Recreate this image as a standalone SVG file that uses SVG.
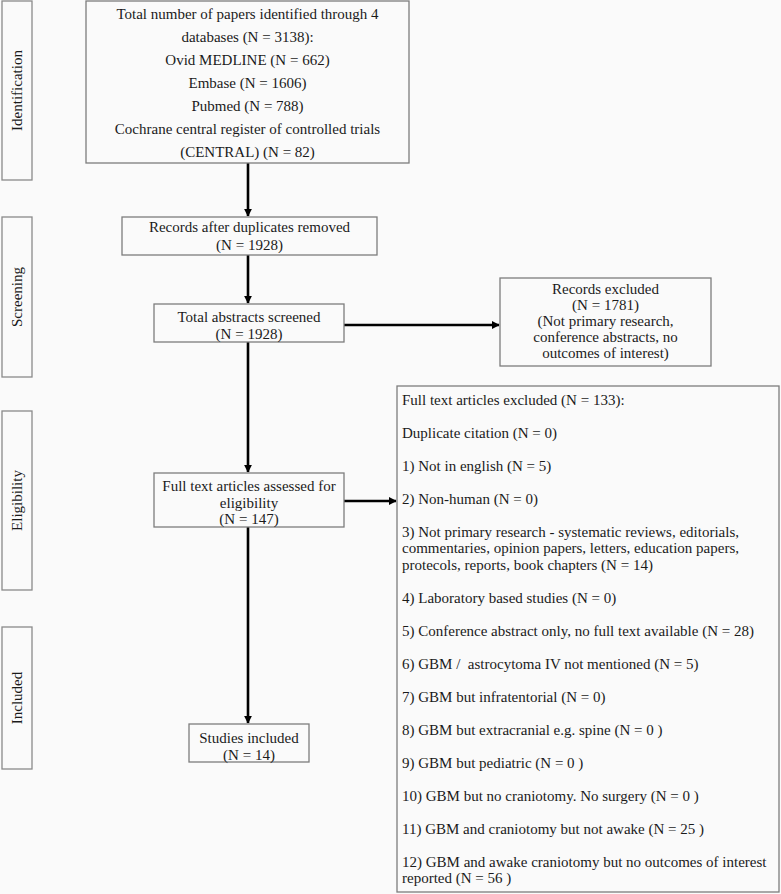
<svg xmlns="http://www.w3.org/2000/svg" width="781" height="894" viewBox="0 0 781 894">
<defs>
<style>
.bx{fill:#fafafa;stroke:#7d7d7d;stroke-width:1.3}
.st{fill:#fafafa;stroke:#8a8a8a;stroke-width:1.3}
text{font-family:"Liberation Serif","Times New Roman",serif;font-size:15px;fill:#1a1a1a}
.c{text-anchor:middle}
.ln{stroke:#000;stroke-width:2.6;fill:none}
</style>
<marker id="ah" viewBox="0 0 10 10" refX="9" refY="5" markerWidth="3" markerHeight="3" orient="auto" markerUnits="strokeWidth">
<path d="M0,0 L10,5 L0,10 z" fill="#000"/>
</marker>
</defs>
<rect width="781" height="894" fill="#fafafa"/>

<g id="stage-identification"><rect class="st" x="2" y="1" width="30" height="179"/><text class="c" transform="translate(22,90.5) rotate(-90)">Identification</text></g>
<g id="stage-screening"><rect class="st" x="2" y="217" width="30" height="160"/><text class="c" transform="translate(22,297) rotate(-90)">Screening</text></g>
<g id="stage-eligibility"><rect class="st" x="2" y="411" width="30" height="179"/><text class="c" transform="translate(22,500.5) rotate(-90)">Eligibility</text></g>
<g id="stage-included"><rect class="st" x="2" y="627" width="30" height="142"/><text class="c" transform="translate(22,698) rotate(-90)">Included</text></g>

<g id="connectors">
<line class="ln" x1="248" y1="163" x2="248" y2="216" marker-end="url(#ah)"/>
<line class="ln" x1="248" y1="255" x2="248" y2="303" marker-end="url(#ah)"/>
<line class="ln" x1="344" y1="325" x2="499" y2="325" marker-end="url(#ah)"/>
<line class="ln" x1="248" y1="342" x2="248" y2="472" marker-end="url(#ah)"/>
<line class="ln" x1="344" y1="501" x2="396" y2="501" marker-end="url(#ah)"/>
<line class="ln" x1="248" y1="527" x2="248" y2="723" marker-end="url(#ah)"/>
</g>

<g id="identified">
<rect class="bx" x="86" y="1" width="323" height="162"/>
<text class="c" x="247.5" y="18.5">Total number of papers identified through 4</text>
<text class="c" x="247.5" y="41.5">databases (N = 3138):</text>
<text class="c" x="247.5" y="64.5">Ovid MEDLINE (N = 662)</text>
<text class="c" x="247.5" y="87.5">Embase (N = 1606)</text>
<text class="c" x="247.5" y="110.5">Pubmed (N = 788)</text>
<text class="c" x="247.5" y="133.5">Cochrane central register of controlled trials</text>
<text class="c" x="247.5" y="156.5">(CENTRAL) (N = 82)</text>
</g>

<g id="deduplicated">
<rect class="bx" x="122" y="217" width="255" height="38"/>
<text class="c" x="249.5" y="231.5">Records after duplicates removed</text>
<text class="c" x="249.5" y="249.5">(N = 1928)</text>
</g>

<g id="screened">
<rect class="bx" x="154" y="304" width="190" height="38"/>
<text class="c" x="249" y="321.5">Total abstracts screened</text>
<text class="c" x="249" y="338.5">(N = 1928)</text>
</g>

<g id="records-excluded">
<rect class="bx" x="500" y="278" width="211" height="88"/>
<text class="c" x="605.5" y="293.5">Records excluded</text>
<text class="c" x="605.5" y="309.5">(N = 1781)</text>
<text class="c" x="605.5" y="325.5">(Not primary research,</text>
<text class="c" x="605.5" y="341.5">conference abstracts, no</text>
<text class="c" x="605.5" y="357.5">outcomes of interest)</text>
</g>

<g id="assessed">
<rect class="bx" x="154" y="473" width="190" height="54"/>
<text class="c" x="249" y="490.5">Full text articles assessed for</text>
<text class="c" x="249" y="507.5">eligibility</text>
<text class="c" x="249" y="523.5">(N = 147)</text>
</g>

<g id="fulltext-excluded">
<rect class="bx" x="397" y="386" width="382" height="506"/>
<text x="402" y="404.5">Full text articles excluded (N = 133):</text>
<text x="402" y="437.5">Duplicate citation (N = 0)</text>
<text x="402" y="470.5">1) Not in english (N = 5)</text>
<text x="402" y="503.5">2) Non-human (N = 0)</text>
<text x="402" y="536.5">3) Not primary research - systematic reviews, editorials,</text>
<text x="402" y="553">commentaries, opinion papers, letters, education papers,</text>
<text x="402" y="569.5">protecols, reports, book chapters (N = 14)</text>
<text x="402" y="602.5">4) Laboratory based studies (N = 0)</text>
<text x="402" y="635.5">5) Conference abstract only, no full text available (N = 28)</text>
<text x="402" y="668.5" xml:space="preserve">6) GBM /  astrocytoma IV not mentioned (N = 5)</text>
<text x="402" y="701.5">7) GBM but infratentorial (N = 0)</text>
<text x="402" y="734.5">8) GBM but extracranial e.g. spine (N = 0 )</text>
<text x="402" y="767.5">9) GBM but pediatric (N = 0 )</text>
<text x="402" y="800.5">10) GBM but no craniotomy. No surgery (N = 0 )</text>
<text x="402" y="833.5">11) GBM and craniotomy but not awake (N = 25 )</text>
<text x="402" y="866.5">12) GBM and awake craniotomy but no outcomes of interest</text>
<text x="402" y="883">reported (N = 56 )</text>
</g>

<g id="included">
<rect class="bx" x="189" y="724" width="120" height="38"/>
<text class="c" x="249" y="742.5">Studies included</text>
<text class="c" x="249" y="759.5">(N = 14)</text>
</g>
</svg>
